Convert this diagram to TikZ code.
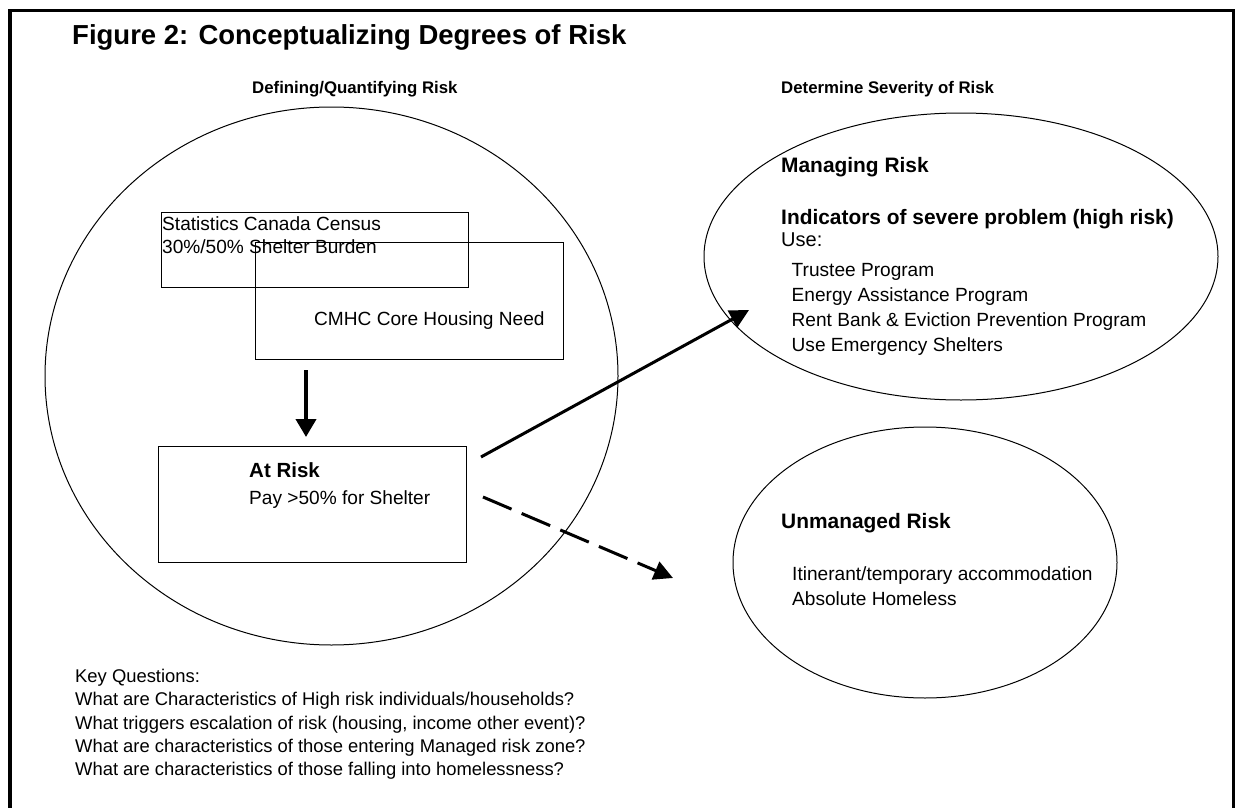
\documentclass[tikz,border=0pt]{standalone}
\usepackage{fontspec}
\setmainfont{Liberation Sans}
\usetikzlibrary{arrows.meta,shapes.geometric}
\begin{document}
\begin{tikzpicture}[x=1pt,y=-1pt,
  shape line/.style={draw=black, line width=1pt},
  boxnode/.style={shape line, rectangle, inner sep=0pt, anchor=north west},
  zone/.style={shape line, ellipse, inner sep=0pt},
  txt/.style={anchor=base west, inner sep=0pt, font=\fontsize{19.1}{23}\selectfont},
  risktxt/.style={anchor=base west, inner sep=0pt, font=\fontsize{20.5}{24}\selectfont\bfseries},
  bigtxt/.style={anchor=base west, inner sep=0pt, font=\fontsize{20}{24}\selectfont},
  btxt/.style={anchor=base west, inner sep=0pt, font=\fontsize{20.9}{25}\selectfont\bfseries},
  headtxt/.style={anchor=base west, inner sep=0pt, font=\fontsize{16.8}{20}\selectfont\bfseries},
  qtxt/.style={anchor=base west, inner sep=0pt, font=\fontsize{18.4}{22}\selectfont},
  bigtip/.style={-{Triangle[length=19pt,width=19pt]}},
  solidarrow/.style={line width=3pt, bigtip},
  dasharrow/.style={line width=3pt, dash pattern=on 31pt off 11pt, bigtip}
]
\useasboundingbox (0,0) rectangle (1235,808);
\clip (0,0) rectangle (1235,808);
% frame
\draw[line width=3.5pt] (10,830) -- (10,10.5) -- (1234,10.5) -- (1234,830);

% title and headings
\node (title) [anchor=base west, inner sep=0pt, font=\fontsize{27.5}{32}\selectfont\bfseries] at (72,45) {Figure 2: Conceptualizing Degrees of Risk};
\node (hleft) [headtxt] at (252,94) {Defining/Quantifying Risk};
\node (hright) [headtxt] at (781,94) {Determine Severity of Risk};

% left zone
\node (defzone) [zone, minimum width=573pt, minimum height=538pt] at (331.5,376) {};
\node (census) [boxnode, minimum width=307pt, minimum height=75pt] at (161,212) {};
\node (core) [boxnode, minimum width=308pt, minimum height=117pt] at (255,242) {};
\node (atrisk) [boxnode, minimum width=308pt, minimum height=116pt] at (158,446) {};

\node (census1) [txt] at (162,230) {Statistics Canada Census};
\node (census2) [txt] at (162,253) {30\%/50\% Shelter Burden};
\node (coretxt) [txt] at (314,325) {CMHC Core Housing Need};
\node (risk1) [risktxt] at (249,477) {At Risk};
\node (risk2) [txt] at (249,504) {Pay >50\% for Shelter};

% right zones
\node (managed) [zone, minimum width=514pt, minimum height=287pt] at (961,256.5) {};
\node (unmanaged) [zone, minimum width=384pt, minimum height=271pt] at (925,562.5) {};

\node (m1) [btxt] at (781,172) {Managing Risk};
\node (m2) [btxt] at (781,224) {Indicators of severe problem (high risk)};
\node (m3) [bigtxt] at (781,246) {Use:};
\node (m4) [txt] at (791.5,276) {Trustee Program};
\node (m5) [txt] at (791.5,301) {Energy Assistance Program};
\node (m6) [txt] at (791.5,326) {Rent Bank \& Eviction Prevention Program};
\node (m7) [txt] at (791.5,351) {Use Emergency Shelters};

\node (u1) [btxt] at (781,528) {Unmanaged Risk};
\node (u2) [txt] at (792,580) {Itinerant/temporary accommodation};
\node (u3) [txt] at (792,605) {Absolute Homeless};

% key questions
\node (q0) [qtxt] at (75,682) {Key Questions:};
\node (q1) [qtxt] at (75,705) {What are Characteristics of High risk individuals/households?};
\node (q2) [qtxt] at (75,729) {What triggers escalation of risk (housing, income other event)?};
\node (q3) [qtxt] at (75,752) {What are characteristics of those entering Managed risk zone?};
\node (q4) [qtxt] at (75,775) {What are characteristics of those falling into homelessness?};

% connectors
\coordinate (downstart) at (306,370);
\coordinate (downend) at (306,437);
\coordinate (solidstart) at (481,457);
\coordinate (solidend) at (749,310);
\coordinate (dashstart) at (483,497);
\coordinate (dashend) at (673,578);
\draw[line width=4pt, -{Triangle[length=18pt,width=20pt]}] (downstart) -- (downend);
\draw[solidarrow] (solidstart) -- (solidend);
\draw[dasharrow] (dashstart) -- (dashend);
\end{tikzpicture}
\end{document}
